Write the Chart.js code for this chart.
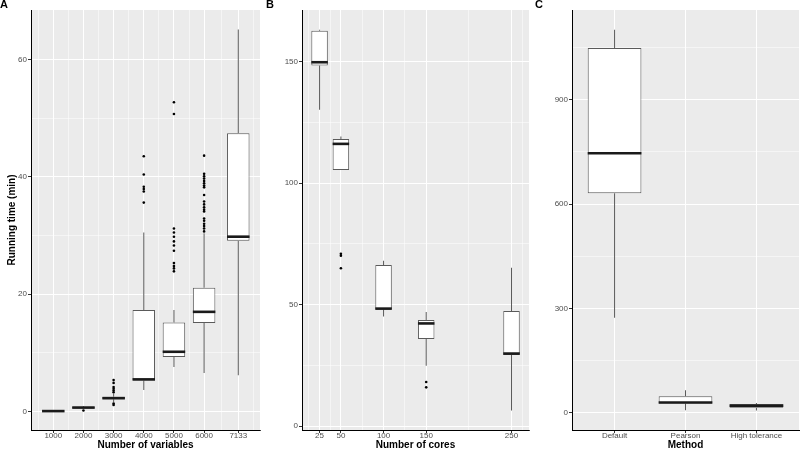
<!DOCTYPE html>
<html><head><meta charset="utf-8">
<script src="https://cdn.jsdelivr.net/npm/chart.js@4.4.0/dist/chart.umd.min.js"></script>
<style>
html,body{margin:0;padding:0;background:#fff;width:800px;height:450px;overflow:hidden}
.p{position:absolute;top:0;height:450px}
</style></head><body>
<div class="p" style="left:0;width:262px"><canvas id="cA"></canvas></div>
<div class="p" style="left:266px;width:264px"><canvas id="cB"></canvas></div>
<div class="p" style="left:535px;width:265px"><canvas id="cC"></canvas></div>
<script>
// ---------- Panel A: running time vs number of variables ----------
const varCounts      = [1000, 2000, 3000, 4000, 5000, 6000, 7133];
const varWhiskerLow  = [0.0, 0.45, 1.6, 3.7, 7.6, 6.6, 6.2];
const varQ1          = [0.05, 0.55, 2.1, 5.3, 9.3, 15.1, 29.1];
const varMedian      = [0.1, 0.7, 2.3, 5.5, 10.2, 17.0, 29.8];
const varQ3          = [0.15, 0.85, 2.55, 17.3, 15.2, 21.1, 47.4];
const varWhiskerHigh = [0.2, 0.95, 3.1, 30.5, 17.3, 30.4, 65.1];
const varOutliers = [
  [],
  [0.2],
  [3.3, 3.6, 3.9, 4.2, 4.9, 5.4, 1.4, 1.15],
  [35.6, 37.5, 37.9, 38.3, 40.4, 43.5],
  [23.9, 24.4, 24.8, 25.3, 27.4, 28.3, 29.0, 29.8, 30.5, 31.2, 50.7, 52.7],
  [30.7, 31.2, 31.6, 32.0, 32.5, 32.9, 34.1, 34.4, 34.8, 35.3, 35.8, 36.9, 38.2, 38.5, 38.9, 39.3, 39.7, 40.1, 40.5, 43.6],
  []
];
const varYTicks = [0, 20, 40, 60];

// ---------- Panel B: running time vs number of cores ----------
const coreCounts      = [25, 50, 100, 150, 250];
const coreWhiskerLow  = [130.2, 105.5, 45.2, 24.9, 6.5];
const coreQ1          = [148.5, 105.5, 48.0, 35.9, 29.3];
const coreMedian      = [149.8, 116.2, 48.4, 42.3, 29.9];
const coreQ3          = [162.8, 118.2, 66.3, 43.7, 47.4];
const coreWhiskerHigh = [163.2, 119.2, 68.1, 47.0, 65.2];
const coreOutliers = [[], [71.0, 70.2, 65.0], [], [18.2, 16.0], []];
const coreYTicks = [0, 50, 100, 150];

// ---------- Panel C: running time vs method ----------
const methods           = ['Default', 'Pearson', 'High tolerance'];
const methodWhiskerLow  = [273, 7, 6];
const methodQ1          = [631, 26, 14];
const methodMedian      = [746, 29, 20];
const methodQ3          = [1049, 47, 24];
const methodWhiskerHigh = [1101, 64, 28];
const methodOutliers    = [[], [], []];
const methodYTicks = [0, 300, 600, 900];

const FONT = "'Liberation Sans', Arial, Helvetica, sans-serif";
Chart.defaults.font.family = FONT;

const panelBg = {
  id: 'panelBg',
  beforeDraw(chart) {
    const {ctx, chartArea: a} = chart;
    ctx.save();
    ctx.fillStyle = '#EBEBEB';
    ctx.fillRect(a.left, a.top, a.right - a.left, a.bottom - a.top);
    ctx.restore();
  }
};

function minorBetween(major, extendLow, extendHigh) {
  const out = [];
  for (let i = 0; i < major.length - 1; i++) out.push((major[i] + major[i + 1]) / 2);
  if (extendLow) out.unshift(major[0] - (major[1] - major[0]) / 2);
  if (extendHigh) out.push(major[major.length - 1] + (major[1] - major[0]) / 2);
  return out;
}

function axis(opts) {
  const major = opts.major, minor = opts.minor || [];
  const all = [...major, ...minor].sort((a, b) => a - b);
  const isMajor = v => major.some(m => Math.abs(m - v) < 1e-9);
  const s = {
    type: 'linear',
    position: opts.position,
    offset: false,
    min: opts.min, max: opts.max,
    afterBuildTicks: sc => { sc.ticks = all.map(v => ({value: v})); },
    afterFit: sc => {
      if (opts.position === 'left') sc.width = opts.size; else sc.height = opts.size;
    },
    ticks: {
      autoSkip: false, maxRotation: 0, minRotation: 0,
      padding: opts.tickPad,
      color: '#4D4D4D',
      font: {size: 8, family: FONT},
      callback: v => isMajor(v) ? (opts.labels ? opts.labels(v) : String(v)) : ''
    },
    grid: {
      offset: false,
      color: '#FFFFFF',
      lineWidth: c => (c.tick && isMajor(c.tick.value)) ? 1 : 0.5,
      tickColor: c => (c.tick && isMajor(c.tick.value)) ? '#333333' : 'rgba(0,0,0,0)',
      tickLength: 3,
      tickWidth: 1
    },
    border: {display: true, color: '#000000', width: 1}
  };
  if (opts.title) {
    s.title = {display: true, text: opts.title, color: '#000',
      font: {size: 10, weight: 'bold', family: FONT},
      padding: opts.titlePad};
  }
  return s;
}

function boxDatasets(xs, low, q1, med, q3, high, outliers, boxPx) {
  const grey = '#5A5A5A';
  const common = {grouped: false, inflateAmount: 0, borderSkipped: false};
  return [
    Object.assign({type: 'bar', order: 5, barThickness: 1, backgroundColor: grey, borderWidth: 0,
      data: xs.map((x, i) => ({x, y: [low[i], q1[i]]}))}, common),
    Object.assign({type: 'bar', order: 5, barThickness: 1, backgroundColor: grey, borderWidth: 0,
      data: xs.map((x, i) => ({x, y: [q3[i], high[i]]}))}, common),
    Object.assign({type: 'bar', order: 4, barThickness: boxPx, backgroundColor: '#FFFFFF',
      borderColor: grey, borderWidth: 1,
      data: xs.map((x, i) => ({x, y: [q1[i], q3[i]]}))}, common),
    {type: 'scatter', order: 3, pointStyle: 'line', pointRadius: boxPx / 2,
      borderColor: '#1A1A1A', borderWidth: 2.6, backgroundColor: '#1A1A1A',
      data: xs.map((x, i) => ({x, y: med[i]}))},
    {type: 'scatter', order: 2, pointStyle: 'circle', pointRadius: 1.3,
      borderWidth: 0, backgroundColor: '#000000',
      data: xs.flatMap((x, i) => outliers[i].map(v => ({x, y: v})))}
  ];
}

function makeChart(id, letter, datasets, xScale, yScale, padRight) {
  return new Chart(document.getElementById(id), {
    type: 'bar',
    data: {datasets},
    options: {
      responsive: true, maintainAspectRatio: false, animation: false,
      events: [],
      layout: {autoPadding: false, padding: {left: 0, right: padRight, top: 0, bottom: 0}},
      plugins: {
        legend: {display: false},
        tooltip: {enabled: false},
        title: {display: true, text: letter, align: 'start', color: '#000',
          font: {size: 11, weight: 'bold', family: FONT, lineHeight: '10px'},
          padding: {top: 0, bottom: 0}}
      },
      scales: {x: xScale, y: yScale}
    },
    plugins: [panelBg]
  });
}

// Panel A
makeChart('cA', 'A',
  boxDatasets(varCounts, varWhiskerLow, varQ1, varMedian, varQ3, varWhiskerHigh, varOutliers, 22.5),
  axis({position: 'bottom', min: 261, max: 7853, major: varCounts,
    minor: [500, 1500, 2500, 3500, 4500, 5500, 6566.5, 7633], size: 20, tickPad: -2,
    title: 'Number of variables', titlePad: {top: 0, bottom: -1}}),
  axis({position: 'left', min: -3.12, max: 68.4, major: varYTicks, minor: minorBetween(varYTicks),
    size: 31, tickPad: 1, title: 'Running time (min)', titlePad: {top: 6, bottom: 0}}),
  2);

// Panel B
makeChart('cB', 'B',
  boxDatasets(coreCounts, coreWhiskerLow, coreQ1, coreMedian, coreQ3, coreWhiskerHigh, coreOutliers, 16.5),
  axis({position: 'bottom', min: 4.4, max: 270.5, major: coreCounts,
    minor: [12.5, 37.5, 75, 125, 200, 262.5], size: 20, tickPad: -2,
    title: 'Number of cores', titlePad: {top: 0, bottom: -1}}),
  axis({position: 'left', min: -1.56, max: 171.3, major: coreYTicks, minor: minorBetween(coreYTicks),
    size: 36, tickPad: 1}),
  1);

// Panel C
const methodPos = methods.map((m, i) => i + 1);
makeChart('cC', 'C',
  boxDatasets(methodPos, methodWhiskerLow, methodQ1, methodMedian, methodQ3, methodWhiskerHigh, methodOutliers, 53.7),
  axis({position: 'bottom', min: 0.4, max: 3.6, major: methodPos, minor: [], size: 20, tickPad: -2,
    labels: v => methods[Math.round(v) - 1],
    title: 'Method', titlePad: {top: 0, bottom: -1}}),
  axis({position: 'left', min: -50, max: 1158, major: methodYTicks, minor: minorBetween(methodYTicks, false, true),
    size: 37, tickPad: 1}),
  1);
</script>
</body></html>
